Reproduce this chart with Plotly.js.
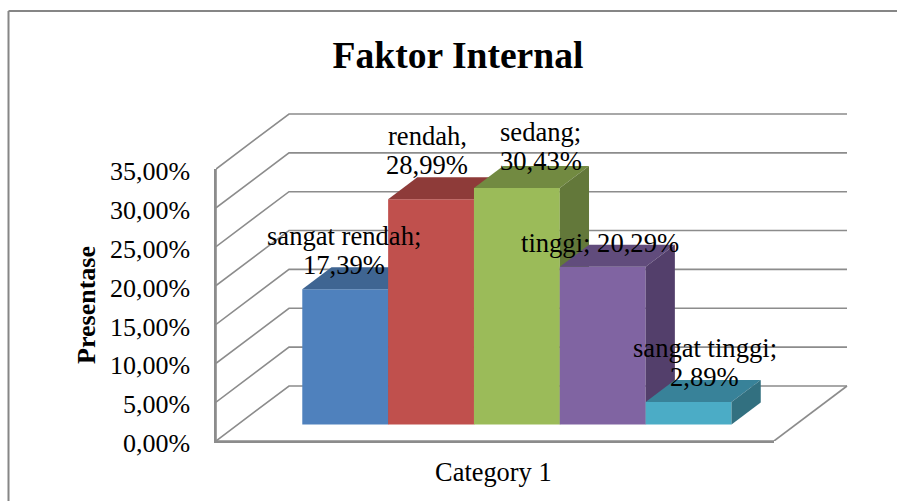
<!DOCTYPE html>
<html>
<head>
<meta charset="utf-8">
<script src="https://cdn.plot.ly/plotly-3.0.1.min.js"></script>
<style>html,body{margin:0;padding:0;background:#fff;overflow:hidden}</style>
</head>
<body>
<div id="chart" style="width:897px;height:501px"></div>
<script>
// ---- data ----
const seriesNames = ['sangat rendah', 'rendah', 'sedang', 'tinggi', 'sangat tinggi'];
const seriesValues = [17.39, 28.99, 30.43, 20.29, 2.89];
const labelSeparators = [';\n', ',\n', ';\n', '; ', ';\n'];
const categoryLabels = ['Category 1'];
const yTickValues = [0, 5, 10, 15, 20, 25, 30, 35];
const yTickLabels = ['0,00%', '5,00%', '10,00%', '15,00%', '20,00%', '25,00%', '30,00%', '35,00%'];

// ---- styles ----
const frontColors = ['#4F81BD', '#C0504D', '#9BBB59', '#8064A2', '#4BACC6'];
const topColors = ['#3F6592', '#8E3B39', '#728A41', '#614C7C', '#388299'];
const sideColors = ['#365780', '#7D3432', '#63783A', '#533F6B', '#327080'];
const labelShiftX = [-1, -4, 24, -3, 16];
const labelShiftY = [39, 49, 41.5, 24, 40];

// ---- oblique projection: depth 0 = front plane, depth 1 = back wall ----
const depthX = 73 / 558, depthY = 55 / 7.77;
const barDepthStart = 0.3, barDepthEnd = 0.7;
const gapRatio = 1.5;
const barWidth = 1 / (seriesValues.length + gapRatio);
const FONT = '"Liberation Serif", "Times New Roman", serif';
const GRID = '#8C8C8C';
const px = (x, d) => x + d * depthX;
const py = (v, d) => v + d * depthY;
const barLeft = i => barWidth * (gapRatio / 2 + i);

// plot canvas: the axes proper fill part of it, the oblique walls the rest
const canvasW = 681, canvasH = 341, axisW = 558, axisH = 272;
const canvasRangeX = [0, canvasW / axisW];
const canvasRangeY = [0, 35 * canvasH / axisH];

// front edges of the left wall and floor, on the labelled axes
const traces = [{
  type: 'scatter', mode: 'lines', hoverinfo: 'skip', showlegend: false,
  x: [0, 0, 1], y: [35, 0, 0], line: {color: GRID, width: 1.6}
}];
const drawAxes = {xaxis: 'x2', yaxis: 'y2'};
yTickValues.forEach(v => {
  traces.push(Object.assign({
    type: 'scatter', mode: 'lines', hoverinfo: 'skip', showlegend: false,
    x: [px(0, 0), px(0, 1), px(1, 1)], y: [py(v, 0), py(v, 1), py(v, 1)],
    line: {color: GRID, width: 1.6}
  }, drawAxes));
});
traces.push(Object.assign({
  type: 'scatter', mode: 'lines', hoverinfo: 'skip', showlegend: false,
  x: [px(1, 0), px(1, 1)], y: [py(0, 0), py(0, 1)], line: {color: GRID, width: 1.6}
}, drawAxes));

// one overlaid subplot per bar so later bars cover earlier ones
const layoutAxes = {
  xaxis2: {domain: [0, 1], anchor: 'y2', range: canvasRangeX, visible: false, fixedrange: true},
  yaxis2: {domain: [0, 1], anchor: 'x2', range: canvasRangeY, visible: false, fixedrange: true}
};
seriesValues.forEach((v, i) => {
  const n = i + 3, xa = 'x' + n, ya = 'y' + n;
  layoutAxes['xaxis' + n] = {overlaying: 'x2', anchor: ya, range: canvasRangeX, visible: false, fixedrange: true};
  layoutAxes['yaxis' + n] = {overlaying: 'y2', anchor: xa, range: canvasRangeY, visible: false, fixedrange: true};
  const x0 = barLeft(i), x1 = x0 + barWidth;
  traces.push({
    type: 'bar', xaxis: xa, yaxis: ya, name: seriesNames[i], showlegend: false, hoverinfo: 'skip',
    x: [px(x0 + barWidth / 2, barDepthStart)], y: [v], base: [py(0, barDepthStart)], width: [barWidth],
    marker: {color: frontColors[i], line: {width: 0}}
  });
  // top face
  traces.push({
    type: 'scatter', mode: 'lines', xaxis: xa, yaxis: ya, hoverinfo: 'skip', showlegend: false,
    fill: 'toself', fillcolor: topColors[i], line: {width: 0, color: topColors[i]},
    x: [px(x0, barDepthStart), px(x1, barDepthStart), px(x1, barDepthEnd), px(x0, barDepthEnd), px(x0, barDepthStart)],
    y: [py(v, barDepthStart), py(v, barDepthStart), py(v, barDepthEnd), py(v, barDepthEnd), py(v, barDepthStart)]
  });
  // side face
  traces.push({
    type: 'scatter', mode: 'lines', xaxis: xa, yaxis: ya, hoverinfo: 'skip', showlegend: false,
    fill: 'toself', fillcolor: sideColors[i], line: {width: 0, color: sideColors[i]},
    x: [px(x1, barDepthStart), px(x1, barDepthEnd), px(x1, barDepthEnd), px(x1, barDepthStart), px(x1, barDepthStart)],
    y: [py(0, barDepthStart), py(0, barDepthEnd), py(v, barDepthEnd), py(v, barDepthStart), py(0, barDepthStart)]
  });
});

// data labels, one annotation per text line
const annotations = [];
const LINE_GAP = 29;
seriesValues.forEach((v, i) => {
  const text = seriesNames[i] + labelSeparators[i] + v.toFixed(2).replace('.', ',') + '%';
  const lines = text.split('\n');
  lines.forEach((t, k) => {
    annotations.push({
      xref: 'x2', yref: 'y2', showarrow: false, xanchor: 'center', yanchor: 'middle',
      x: px(barLeft(i) + barWidth / 2, barDepthStart), y: py(v, barDepthStart),
      xshift: labelShiftX[i],
      yshift: labelShiftY[i] + ((lines.length - 1) / 2 - k) * LINE_GAP,
      text: t, font: {family: FONT, size: 26.6, color: '#000'}
    });
  });
});

const pageX = p => (p - 216) / canvasW, pageY = p => (441 - p) / canvasH;
const layout = Object.assign({
  width: 897, height: 501, autosize: false,
  margin: {l: 216, r: 0, t: 100, b: 60, pad: 0},
  paper_bgcolor: '#fff', plot_bgcolor: 'rgba(0,0,0,0)',
  showlegend: false, barmode: 'overlay', hovermode: false,
  title: {text: '<b>Faktor Internal</b>', x: 458 / 897, xanchor: 'center', y: 1 - 55 / 501, yanchor: 'middle',
    font: {family: FONT, size: 37.6, color: '#000'}},
  xaxis: {domain: [0, axisW / canvasW], anchor: 'y', range: [0, 1], fixedrange: true, showgrid: false, zeroline: false,
    showline: true, linecolor: GRID, linewidth: 1.6,
    tickmode: 'array', tickvals: [0.497], ticktext: categoryLabels, ticks: 'outside', ticklen: 7, tickcolor: 'rgba(0,0,0,0)',
    tickfont: {family: FONT, size: 26.4, color: '#000'}},
  yaxis: {domain: [0, axisH / canvasH], anchor: 'x', range: [0, 35], fixedrange: true, showgrid: false, zeroline: false,
    showline: true, linecolor: GRID, linewidth: 1.6,
    tickmode: 'array', tickvals: yTickValues, ticktext: yTickLabels, ticks: 'outside', ticklen: 19, tickcolor: 'rgba(0,0,0,0)',
    ticklabelshift: 2,
    tickfont: {family: FONT, size: 26, color: '#000'},
    title: {text: '<b>Presentase</b>', standoff: 7, font: {family: FONT, size: 26, color: '#000'}}},
  annotations: annotations,
  shapes: [
    {type: 'line', xref: 'paper', yref: 'paper', x0: pageX(8.5), x1: pageX(8.5), y0: pageY(11), y1: pageY(501), line: {color: '#868686', width: 2}},
    {type: 'line', xref: 'paper', yref: 'paper', x0: pageX(8.5), x1: pageX(897), y0: pageY(11), y1: pageY(11), line: {color: '#868686', width: 2}}
  ]
}, layoutAxes);

Plotly.newPlot('chart', traces, layout, {displayModeBar: false, staticPlot: true});
</script>
</body>
</html>
